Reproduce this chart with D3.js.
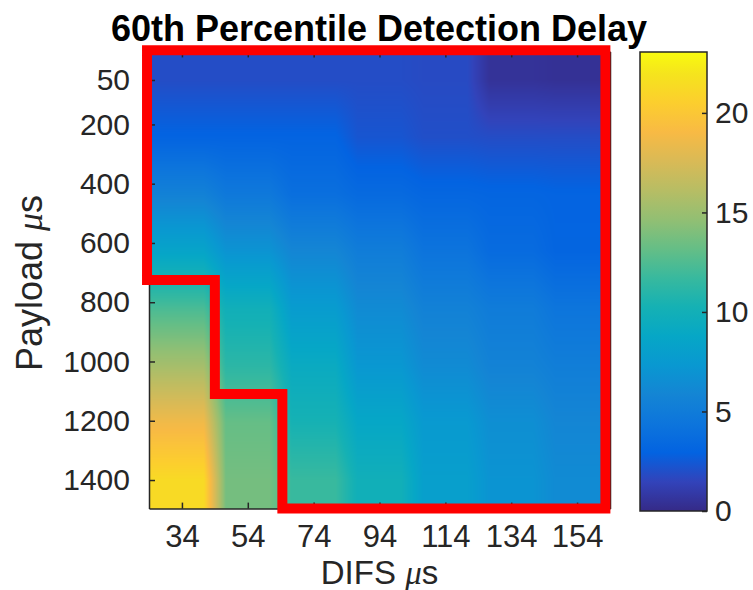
<!DOCTYPE html>
<html>
<head>
<meta charset="utf-8">
<script src="https://cdn.jsdelivr.net/npm/d3@7"></script>
<style>
body{margin:0;background:#fff;}
svg{display:block;font-family:"Liberation Sans",Arial,sans-serif;}
</style>
</head>
<body>
<div id="chart"></div>
<script>
// ---- data ----
var difs = [34, 54, 74, 94, 114, 134, 154];
var payload = [50, 200, 400, 600, 800, 1000, 1200, 1400];
// delay[row = payload][col = difs]
var delay = [
  [1.9, 1.9, 1.9, 1.9, 1.8, 0.5, 0.4],
  [3.0, 3.0, 3.0, 2.3, 2.0, 1.9, 1.9],
  [5.5, 4.7, 3.9, 3.5, 3.2, 3.1, 3.0],
  [8.5, 7.0, 5.9, 5.1, 4.3, 3.6, 3.1],
  [12.3, 9.9, 7.7, 6.3, 5.5, 5.0, 4.4],
  [15.4, 11.2, 9.2, 7.3, 6.3, 5.6, 5.2],
  [18.7, 13.2, 10.3, 8.8, 7.5, 6.6, 5.9],
  [21.3, 13.7, 11.7, 9.9, 8.0, 7.0, 6.3]
];
var yTickValues = [50, 200, 400, 600, 800, 1000, 1200, 1400];
var cbTickValues = [0, 5, 10, 15, 20];
var cbLimits = [0, 23.06];
// highlighted region outline, in data units (DIFS, payload)
var highlightX = [23.4, 162.6, 162.6, 64.5, 64.5, 44, 44, 23.4];
var highlightY = [-50, -50, 1496, 1496, 1110, 1110, 725, 725];

// parula colormap samples
var parula = ["#352a87","#3243ba","#0363e1","#0d75dc","#1485d4","#0998d1","#06a7c6","#15b1b4",
  "#38b99e","#65be86","#92bf73","#b7bd64","#d9ba56","#f8ba44","#fcce2e","#f5e41d","#f9fb0e"];
var parulaPos = [0,4,8,12,16,20,24,28,32,36,40,44,48,52,56,60,63].map(function(i){ return i/63; });

var W = 753, H = 590;
var svg = d3.select("#chart").append("svg").attr("width", W).attr("height", H);

// image extent like imagesc: half a step beyond first/last centre
var dxHalf = (difs[difs.length-1] - difs[0]) / (difs.length-1) / 2,
    dyHalf = (payload[payload.length-1] - payload[0]) / (payload.length-1) / 2;

var x = d3.scaleLinear()
  .domain([difs[0] - dxHalf, difs[difs.length-1] + dxHalf])
  .range([149, 610]);
var y = d3.scaleLinear()
  .domain([payload[0] - dyHalf, payload[payload.length-1] + dyHalf])
  .range([51.4, 508.6]);

var tColor = d3.scaleLinear().domain(parulaPos).range(parula).clamp(true);
var vNorm = d3.scaleLinear().domain(cbLimits).range([0, 1]).clamp(true);
function color(v){ return tColor(vNorm(v)); }

var colIdx = d3.scaleLinear().domain([difs[0], difs[difs.length-1]]).range([0, difs.length-1]).clamp(true);
var rowIdx = d3.scaleLinear().domain([payload[0], payload[payload.length-1]]).range([0, payload.length-1]).clamp(true);

function valueAt(xv, yv){
  var cf = colIdx(xv), rf = rowIdx(yv);
  var c0 = Math.floor(cf), c1 = Math.min(c0+1, difs.length-1);
  var r0 = Math.floor(rf), r1 = Math.min(r0+1, payload.length-1);
  var tc = cf - c0, tr = rf - r0;
  // columns are nearly flat with a soft edge between them
  var wc = Math.max(0, Math.min(1, (tc - 0.5) * 3 + 0.5));
  var a = delay[r0][c0] * (1-wc) + delay[r0][c1] * wc;
  var b = delay[r1][c0] * (1-wc) + delay[r1][c1] * wc;
  return a * (1-tr) + b * tr;
}

// draw heatmap into a canvas, then into the svg
var px0 = Math.round(x.range()[0]), px1 = Math.round(x.range()[1]),
    py0 = Math.round(y.range()[0]), py1 = Math.round(y.range()[1]);
var cw = px1 - px0, ch = py1 - py0;
var canvas = document.createElement("canvas");
canvas.width = cw; canvas.height = ch;
var ctx = canvas.getContext("2d");
var img = ctx.createImageData(cw, ch);
for (var j = 0; j < ch; j++){
  var yv = y.invert(py0 + j + 0.5);
  for (var i = 0; i < cw; i++){
    var c = d3.rgb(color(valueAt(x.invert(px0 + i + 0.5), yv)));
    var k = (j*cw + i) * 4;
    img.data[k] = c.r; img.data[k+1] = c.g; img.data[k+2] = c.b; img.data[k+3] = 255;
  }
}
ctx.putImageData(img, 0, 0);

svg.append("image")
  .attr("x", px0).attr("y", py0)
  .attr("width", cw).attr("height", ch)
  .attr("preserveAspectRatio", "none")
  .attr("href", canvas.toDataURL());

// axes (MATLAB style: ticks inward, box on)
var axColor = "#262626";
var fmt = d3.format("d");
function styleAxis(g, size){
  g.attr("font-family", null).attr("font-size", size);
  g.selectAll("path.domain").attr("stroke", axColor).attr("stroke-width", 1.5);
  g.selectAll(".tick line").attr("stroke", axColor).attr("stroke-width", 1.5);
  g.selectAll("text").attr("fill", axColor);
}

svg.append("g")
  .attr("transform", "translate(0," + y.range()[1] + ")")
  .call(d3.axisBottom(x).tickValues(difs).tickFormat(fmt).tickSizeInner(-6).tickSizeOuter(0).tickPadding(16))
  .call(styleAxis, 31);
svg.append("g")
  .attr("transform", "translate(0," + y.range()[0] + ")")
  .call(d3.axisTop(x).tickValues(difs).tickSizeInner(-6).tickSizeOuter(0).tickFormat(""))
  .call(styleAxis, 30);
svg.append("g")
  .attr("transform", "translate(" + x.range()[0] + ",0)")
  .call(d3.axisLeft(y).tickValues(yTickValues).tickFormat(fmt).tickSizeInner(-6).tickSizeOuter(0).tickPadding(19))
  .call(styleAxis, 30);
svg.append("g")
  .attr("transform", "translate(" + x.range()[1] + ",0)")
  .call(d3.axisRight(y).tickValues(yTickValues).tickSizeInner(-6).tickSizeOuter(0).tickFormat(""))
  .call(styleAxis, 30);

// red highlight outline
var outline = d3.line()
  .x(function(d){ return x(d[0]); })
  .y(function(d){ return y(d[1]); });
svg.append("path")
  .attr("d", outline(d3.zip(highlightX, highlightY)) + "Z")
  .attr("fill", "none")
  .attr("stroke", "#fe0000")
  .attr("stroke-width", 10)
  .attr("stroke-linejoin", "miter");

// colorbar
var cb = d3.scaleLinear().domain(cbLimits).range([511, 52]);
var cbX = 640, cbW = 67;
var grad = svg.append("defs").append("linearGradient")
  .attr("id", "parula").attr("x1", 0).attr("y1", 1).attr("x2", 0).attr("y2", 0);
grad.selectAll("stop").data(parula).enter().append("stop")
  .attr("offset", function(d, i){ return parulaPos[i]; })
  .attr("stop-color", function(d){ return d; });
svg.append("rect")
  .attr("x", cbX).attr("y", cb.range()[1])
  .attr("width", cbW).attr("height", cb.range()[0] - cb.range()[1])
  .attr("fill", "url(#parula)")
  .attr("stroke", axColor).attr("stroke-width", 1.5);
svg.append("g")
  .attr("transform", "translate(" + (cbX + cbW) + ",0)")
  .call(d3.axisRight(cb).tickValues(cbTickValues).tickFormat(fmt).tickSizeInner(-5).tickSizeOuter(0).tickPadding(8))
  .call(styleAxis, 30)
  .select("path.domain").remove();

// title and labels
svg.append("text")
  .attr("x", 379).attr("y", 41)
  .attr("text-anchor", "middle")
  .attr("font-size", 36).attr("font-weight", "bold")
  .attr("fill", "#000")
  .text("60th Percentile Detection Delay");

var xl = svg.append("text")
  .attr("x", (x.range()[0] + x.range()[1]) / 2).attr("y", 584)
  .attr("text-anchor", "middle").attr("font-size", 33).attr("fill", axColor);
xl.append("tspan").text("DIFS ");
xl.append("tspan").attr("font-style", "italic").attr("font-family", "Liberation Serif, serif").text("\u03bc");
xl.append("tspan").text("s");

var yl = svg.append("text")
  .attr("transform", "translate(42," + 283 + ") rotate(-90)")
  .attr("text-anchor", "middle").attr("font-size", 36).attr("fill", axColor);
yl.append("tspan").text("Payload ");
yl.append("tspan").attr("font-style", "italic").attr("font-family", "Liberation Serif, serif").text("\u03bc");
yl.append("tspan").text("s");
</script>
</body>
</html>
